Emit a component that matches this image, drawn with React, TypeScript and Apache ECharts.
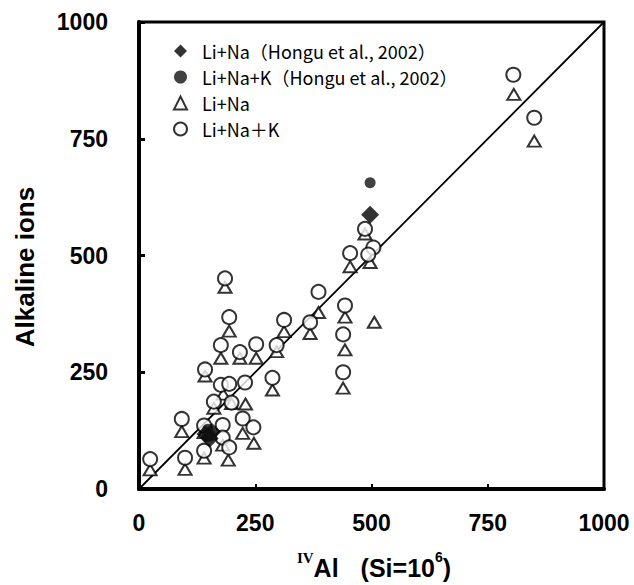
import React, { useEffect, useRef } from "react";
import * as echarts from "echarts";

const xTicks = [0, 250, 500, 750, 1000];
const yTicks = [0, 250, 500, 750, 1000];

const seriesNames = [
  "Li+Na（Hongu et al., 2002）",
  "Li+Na+K（Hongu et al., 2002）",
  "Li+Na",
  "Li+Na＋K",
];

const honguLiNa: [number, number][] = [
  [497, 587], [143, 118], [152, 108], [157, 122],
];

const honguLiNaK: [number, number][] = [
  [497, 656], [148, 128], [155, 114], [146, 112],
];

const liNa: [number, number][] = [
  [806, 845], [850, 745], [486, 546], [497, 485], [454, 476], [386, 378],
  [185, 432], [194, 338], [312, 337], [368, 333], [443, 368], [443, 298],
  [439, 216], [506, 357], [176, 280], [217, 280], [252, 280], [296, 294],
  [142, 242], [181, 203], [229, 182], [287, 212], [161, 173], [199, 183],
  [92, 123], [140, 121], [223, 119], [247, 98], [180, 94], [140, 66],
  [192, 62], [99, 42], [24, 41],
];

const liNaK: [number, number][] = [
  [805, 887], [850, 795], [486, 557], [504, 517], [493, 502], [454, 505],
  [386, 422], [185, 451], [194, 368], [312, 362], [368, 357], [443, 393],
  [439, 331], [439, 250], [176, 308], [217, 293], [252, 310], [296, 308],
  [142, 256], [176, 223], [194, 225], [228, 228], [287, 238], [161, 187],
  [199, 185], [92, 150], [140, 136], [180, 137], [223, 151], [246, 132],
  [180, 110], [140, 82], [194, 89], [99, 67], [24, 64],
];

const oneToOne: [number, number][] = [
  [0, 0],
  [1000, 1000],
];

const axisTitleX = "Al";
const axisTitleY = "Alkaline ions";

export default function App() {
  const ref = useRef<HTMLDivElement>(null);
  useEffect(() => {
    if (!ref.current) return;
    const chart = echarts.init(ref.current, null, { renderer: "svg" });
    const tickFont = {
      fontFamily: "'Liberation Sans', Arial, sans-serif",
      fontWeight: "bold" as const,
      fontSize: 23,
      color: "#000",
      formatter: (v: number) => String(v),
    };
    const boldSans = "'Liberation Sans', Arial, sans-serif";
    chart.setOption({
      animation: false,
      backgroundColor: "#fff",
      grid: {
        left: 139,
        right: 30,
        top: 22,
        bottom: 96,
        show: true,
        borderColor: "#000",
        borderWidth: 3,
      },
      xAxis: {
        type: "value",
        min: xTicks[0],
        max: xTicks[xTicks.length - 1],
        interval: 250,
        splitLine: { show: false },
        axisLine: { show: true, lineStyle: { color: "#000", width: 4 } },
        axisTick: { show: true, inside: true, length: 5, lineStyle: { color: "#000", width: 2 } },
        axisLabel: { ...tickFont, margin: 22 },
      },
      yAxis: {
        type: "value",
        min: yTicks[0],
        max: yTicks[yTicks.length - 1],
        interval: 250,
        splitLine: { show: false },
        axisLine: { show: true, lineStyle: { color: "#000", width: 4 } },
        axisTick: { show: true, inside: true, length: 6, lineStyle: { color: "#000", width: 3 } },
        axisLabel: { ...tickFont, margin: 31 },
      },
      legend: {
        data: seriesNames,
        orient: "vertical",
        left: 168,
        top: 37,
        itemWidth: 13,
        itemHeight: 13,
        itemGap: 8,
        textStyle: {
          fontFamily: "'Noto Sans CJK JP', sans-serif",
          fontSize: 18,
          color: "#000",
          padding: [0, 0, 0, 10],
        },
      },
      graphic: [
        {
          type: "text",
          x: 25,
          y: 267,
          rotation: Math.PI / 2,
          style: {
            text: axisTitleY,
            fontFamily: boldSans,
            fontWeight: "bold",
            fontSize: 26,
            fill: "#000",
            align: "center",
            verticalAlign: "middle",
          },
        },
        {
          type: "text",
          x: 374,
          y: 565,
          style: {
            text: "{iv|IV}{al|" + axisTitleX + "}{sp|}{n|(Si=10}{s|6}{n|)}",
            align: "center",
            verticalAlign: "middle",
            fill: "#000",
            rich: {
              iv: {
                fontFamily: "'Liberation Serif', serif",
                fontWeight: "bold",
                fontSize: 15,
                verticalAlign: "top",
                lineHeight: 30,
                fill: "#000",
              },
              al: {
                fontFamily: boldSans,
                fontWeight: "bold",
                fontSize: 25,
                lineHeight: 30,
                verticalAlign: "bottom",
                fill: "#000",
              },
              sp: { width: 22, lineHeight: 30 },
              n: {
                fontFamily: boldSans,
                fontWeight: "bold",
                fontSize: 25,
                lineHeight: 30,
                verticalAlign: "bottom",
                fill: "#000",
              },
              s: {
                fontFamily: boldSans,
                fontWeight: "bold",
                fontSize: 14,
                lineHeight: 30,
                verticalAlign: "top",
                fill: "#000",
              },
            },
          },
        },
      ],
      series: [
        {
          type: "line",
          data: oneToOne,
          symbol: "none",
          silent: true,
          lineStyle: { color: "#000", width: 1.8 },
          z: 1,
        },
        {
          name: seriesNames[2],
          type: "scatter",
          data: liNa,
          symbol: "triangle",
          symbolSize: [13, 11],
          itemStyle: { color: "#fff", borderColor: "#000", borderWidth: 2 },
          z: 2,
        },
        {
          name: seriesNames[3],
          type: "scatter",
          data: liNaK,
          symbol: "circle",
          symbolSize: 14,
          itemStyle: { color: "#fff", borderColor: "#000", borderWidth: 2 },
          z: 3,
        },
        {
          name: seriesNames[0],
          type: "scatter",
          data: honguLiNa,
          symbol: "diamond",
          symbolSize: 18,
          itemStyle: { color: "#000" },
          z: 4,
        },
        {
          name: seriesNames[1],
          type: "scatter",
          data: honguLiNaK,
          symbol: "circle",
          symbolSize: 11,
          itemStyle: { color: "#111" },
          z: 4,
        },
      ],
    });
    return () => chart.dispose();
  }, []);
  return (
    <div
      ref={ref}
      style={{ position: "fixed", left: 0, top: 0, width: 634, height: 585 }}
    />
  );
}
